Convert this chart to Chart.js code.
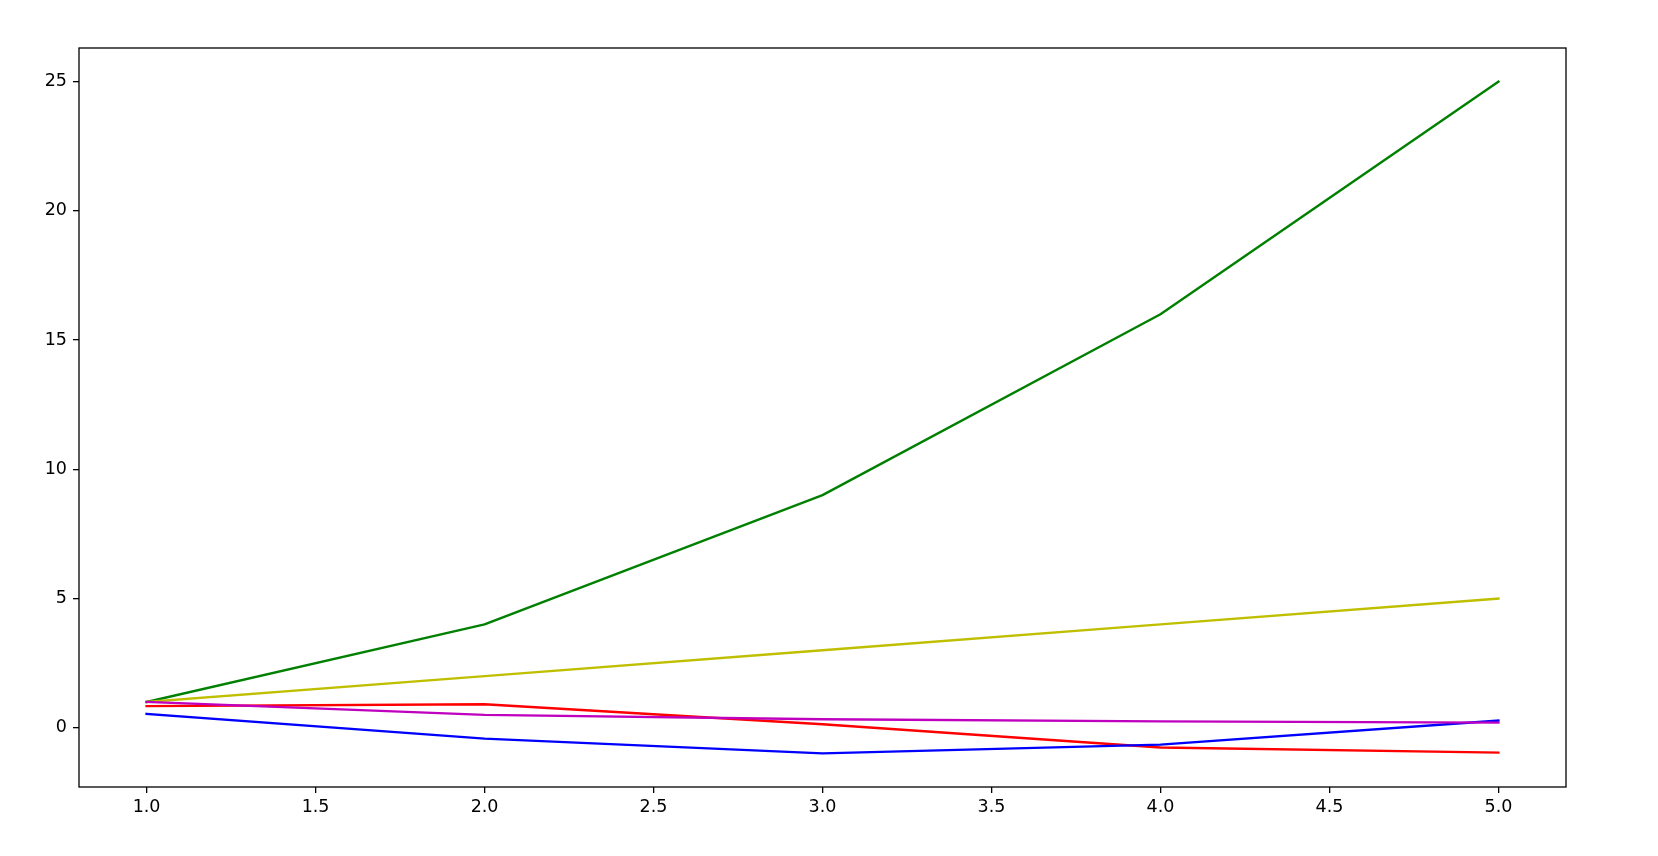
<!DOCTYPE html>
<html>
<head>
<meta charset="utf-8">
<script src="https://cdn.jsdelivr.net/npm/chart.js@4"></script>
<style>
    html, body { margin: 0; padding: 0; background: #ffffff; }
    canvas { display: block; }
</style>
</head>
<body>
<canvas id="chart" width="1658" height="856"></canvas>
<script>
// Data
const xValues = [1, 2, 3, 4, 5];
const squareValues = [1, 4, 9, 16, 25];
const linearValues = [1, 2, 3, 4, 5];
const sineValues = [0.84, 0.91, 0.14, -0.76, -0.96];
const cosineValues = [0.54, -0.42, -0.99, -0.65, 0.28];
const inverseValues = [1.0, 0.5, 0.33, 0.25, 0.2];

const xTicks = [1.0, 1.5, 2.0, 2.5, 3.0, 3.5, 4.0, 4.5, 5.0];
const yTicks = [0, 5, 10, 15, 20, 25];

// Plot order (later lines sit on top)
const series = [
    { values: squareValues, color: "#008000" },
    { values: linearValues, color: "#bfbf00" },
    { values: sineValues, color: "#ff0000" },
    { values: cosineValues, color: "#0000ff" },
    { values: inverseValues, color: "#bf00bf" },
];

const toPoints = (values) => xValues.map((x, i) => ({ x: x, y: values[i] }));

// Box around the plot area, like matplotlib spines
const frame = {
    id: "frame",
    afterDatasetsDraw(chart) {
        const { ctx, chartArea } = chart;
        ctx.save();
        ctx.strokeStyle = "#000000";
        ctx.lineWidth = 1.3;
        ctx.strokeRect(chartArea.left, chartArea.top,
            chartArea.right - chartArea.left, chartArea.bottom - chartArea.top);
        ctx.restore();
    },
};

const tickGrid = {
    display: true,
    drawOnChartArea: false,
    drawTicks: true,
    tickLength: 6,
    color: "#000000",
    lineWidth: 1.3,
};

const font = { family: "DejaVu Sans", size: 17.5 };

new Chart(document.getElementById("chart"), {
    type: "line",
    data: {
        datasets: series.map((s, i) => ({
            data: toPoints(s.values),
            borderColor: s.color,
            borderWidth: 2.4,
            borderJoinStyle: "round",
            borderCapStyle: "square",
            pointRadius: 0,
            tension: 0,
            fill: false,
            order: series.length - i,
        })),
    },
    options: {
        responsive: false,
        animation: false,
        devicePixelRatio: 1,
        layout: { padding: { top: 48, right: 92, left: 0, bottom: 0 } },
        plugins: { legend: { display: false }, tooltip: { enabled: false } },
        scales: {
            x: {
                type: "linear",
                min: 0.8,
                max: 5.2,
                afterBuildTicks: (scale) => {
                    scale.ticks = xTicks.map((v) => ({ value: v }));
                },
                afterFit: (scale) => { scale.height = 69; },
                ticks: {
                    color: "#000000",
                    font: font,
                    padding: 4,
                    maxRotation: 0,
                    autoSkip: false,
                    callback: (v) => Number(v).toFixed(1),
                },
                grid: tickGrid,
                border: { display: false },
            },
            y: {
                type: "linear",
                min: -2.29,
                max: 26.3,
                afterBuildTicks: (scale) => {
                    scale.ticks = yTicks.map((v) => ({ value: v }));
                },
                afterFit: (scale) => { scale.width = 79; },
                ticks: {
                    color: "#000000",
                    font: font,
                    padding: 6,
                    autoSkip: false,
                    callback: (v) => String(v),
                },
                grid: tickGrid,
                border: { display: false },
            },
        },
    },
    plugins: [frame],
});
</script>
</body>
</html>
